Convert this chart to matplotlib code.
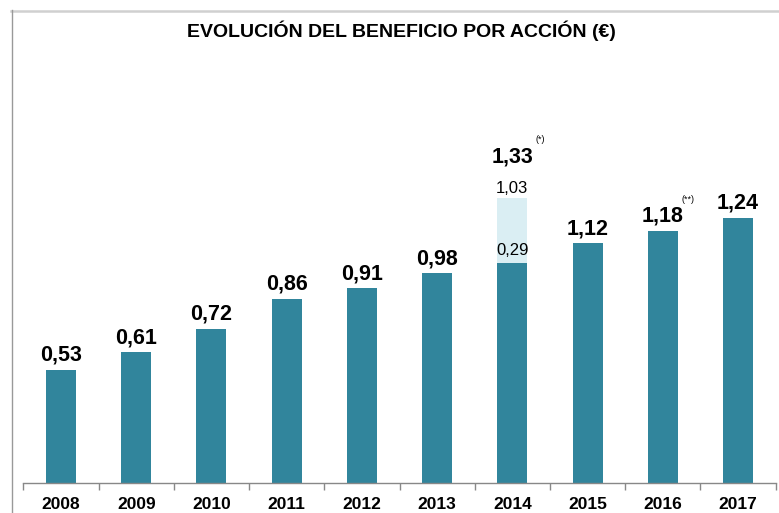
import matplotlib
matplotlib.use("Agg")
import matplotlib.pyplot as plt
from matplotlib.lines import Line2D
import numpy as np

plt.rcParams['font.family'] = ['Liberation Sans', 'DejaVu Sans']

years = ['2008', '2009', '2010', '2011', '2012', '2013', '2014', '2015', '2016', '2017']
eps_total = [0.53, 0.61, 0.72, 0.86, 0.91, 0.98, 1.33, 1.12, 1.18, 1.24]
eps_base = [0.53, 0.61, 0.72, 0.86, 0.91, 0.98, 1.03, 1.12, 1.18, 1.24]
split_year = '2014'
split_labels = ['1,03', '0,29']  # upper label, lower label as shown
notes = {'2014': '(*)', '2016': '(**)'}

dark = '#31859C'
light = '#DAEEF3'

fig = plt.figure(figsize=(7.79, 5.13), dpi=100)
ax = fig.add_axes([0.030, 0.0585, 0.9657, 0.8245])
x = np.arange(len(years))
ax.bar(x, eps_base, width=0.4, color=dark, zorder=2)
si = years.index(split_year)
ax.bar(x[si], eps_total[si] - eps_base[si], bottom=eps_base[si], width=0.4, color=light, zorder=2)

ax.set_xlim(-0.5, len(years) - 0.5)
ax.set_ylim(0, 1.977)
for s in ['top', 'right', 'left']:
    ax.spines[s].set_visible(False)
ax.spines['bottom'].set_color('#888888')
ax.spines['bottom'].set_linewidth(1.0)
ax.set_yticks([])
ax.set_xticks(x)
ax.set_xticklabels(years, fontsize=12.5, fontweight='bold')
ax.set_xticks(np.arange(-0.5, len(years)), minor=True)
ax.tick_params(axis='x', which='major', length=0, pad=10)
ax.tick_params(axis='x', which='minor', length=5, color='#888888', width=1)

def fmt(v):
    return f'{v:.2f}'.replace('.', ',')

for i, (yr, v) in enumerate(zip(years, eps_total)):
    ax.annotate(fmt(v), (x[i], v), xytext=(0, 3 if yr != split_year else 22),
                textcoords='offset points', ha='center', va='bottom',
                fontsize=15.5, fontweight='bold')
    if yr in notes:
        dx = 20 if yr == split_year else 18
        dy = 39 if yr == split_year else 19
        ax.annotate(notes[yr], (x[i], v), xytext=(dx, dy), textcoords='offset points',
                    ha='center', va='bottom', fontsize=6.5)

ax.annotate(split_labels[0], (x[si], eps_total[si]), xytext=(0, 2), textcoords='offset points',
            ha='center', va='bottom', fontsize=12)
ax.annotate(split_labels[1], (x[si], eps_base[si]), xytext=(0, 3), textcoords='offset points',
            ha='center', va='bottom', fontsize=12)

fig.text(0.515, 0.94, 'EVOLUCIÓN DEL BENEFICIO POR ACCIÓN (€)', ha='center', va='center',
         fontsize=14, fontweight='bold')

fig.add_artist(Line2D([11/779, 1.0], [1 - 10.5/513, 1 - 10.5/513], color='#d0d0d0', lw=1.8,
                      transform=fig.transFigure))
fig.add_artist(Line2D([11.5/779, 11.5/779], [1 - 10/513, 0], color='#999999', lw=1.0,
                      transform=fig.transFigure))

fig.savefig('out.png', dpi=100)
